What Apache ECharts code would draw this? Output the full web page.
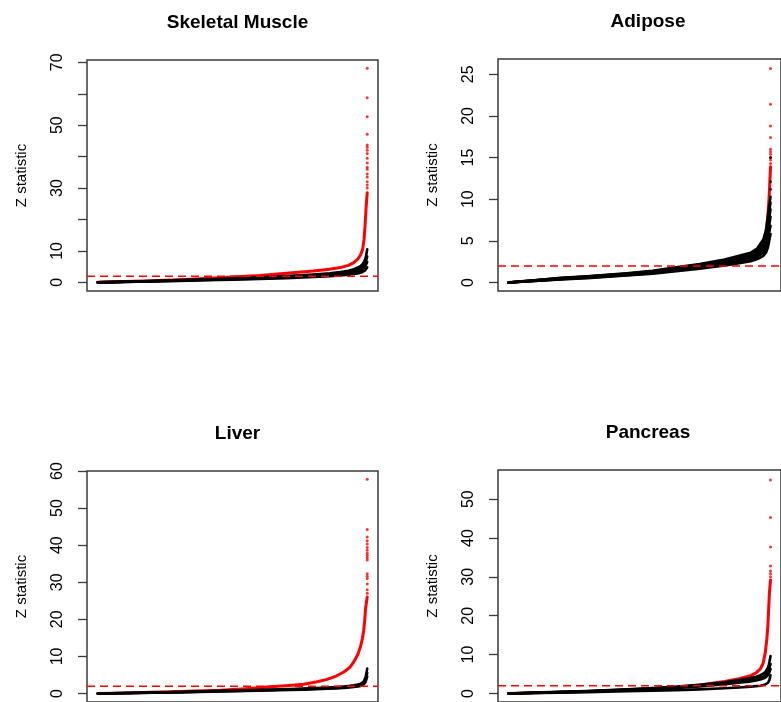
<!DOCTYPE html>
<html>
<head>
<meta charset="utf-8">
<script src="https://cdn.jsdelivr.net/npm/echarts@6/dist/echarts.min.js"></script>
<style>
  html, body { margin: 0; padding: 0; background: #fff; }
  #chart { width: 781px; height: 702px; }
</style>
</head>
<body>
<div id="chart"></div>
<script>
// Sorted Z statistics per tissue: observed (red) versus null runs (black).
// x is the rank as a fraction of all genes (0 = smallest, 1 = largest).

const panelTitles = ['Skeletal Muscle', 'Adipose', 'Liver', 'Pancreas'];
const threshold = 1.96;

// ---- Skeletal Muscle ----
const muscleRank = [0, 0.1, 0.2, 0.3, 0.4, 0.5, 0.6, 0.7, 0.8, 0.86, 0.9, 0.93, 0.95, 0.965, 0.975, 0.983, 0.988, 0.992, 0.996, 1];
const muscleObserved = [0, 0.25, 0.5, 0.85, 1.2, 1.7, 2.2, 2.9, 3.6, 4.2, 4.7, 5.4, 6.3, 7.4, 8.7, 10.5, 13.5, 18, 24, 28.5];
const muscleObservedTail = [30, 31, 32, 33.5, 34.5, 36, 36.6, 38, 39.5, 41, 42, 43, 43.7, 47.1, 52.7, 58.7, 68.1];
const muscleNull = [
  [0, 0.2, 0.45, 0.7, 0.95, 1.25, 1.6, 2.0, 2.5, 2.9, 3.3, 3.7, 4.2, 4.7, 5.2, 5.8, 6.4, 7.2, 8.5, 10.5],
  [0, 0.18, 0.4, 0.62, 0.85, 1.1, 1.4, 1.75, 2.2, 2.55, 2.9, 3.25, 3.6, 4.0, 4.4, 4.9, 5.4, 6.0, 7.0, 8.2],
  [0, 0.16, 0.35, 0.55, 0.75, 0.98, 1.25, 1.55, 1.95, 2.25, 2.55, 2.85, 3.15, 3.45, 3.75, 4.1, 4.5, 5.0, 5.7, 6.5],
  [0, 0.14, 0.3, 0.48, 0.66, 0.86, 1.1, 1.35, 1.7, 1.95, 2.2, 2.45, 2.65, 2.85, 3.05, 3.3, 3.55, 3.8, 4.2, 4.8]
];
const muscleNullTail = [];
const muscleTicks = [0, 10, 20, 30, 40, 50, 60, 70];
const muscleLabels = [0, 10, 30, 50, 70];

// ---- Adipose ----
const adiposeRank = [0, 0.1, 0.2, 0.3, 0.45, 0.55, 0.64, 0.73, 0.825, 0.88, 0.924, 0.95, 0.973, 0.983, 0.99, 0.995, 1];
const adiposeObserved = [0, 0.24, 0.49, 0.69, 1.02, 1.3, 1.7, 2.08, 2.6, 2.98, 3.3, 3.8, 4.8, 6.0, 8.0, 10.5, 13.9];
const adiposeObservedTail = [14.3, 14.7, 15.0, 15.4, 15.7, 16.0, 17.4, 18.8, 21.4, 25.7];
const adiposeNull = [
  [0, 0.27, 0.55, 0.75, 1.1, 1.4, 1.82, 2.2, 2.75, 3.2, 3.55, 4.1, 5.2, 6.3, 8.0, 9.2, 10.3],
  [0, 0.25, 0.51, 0.71, 1.05, 1.34, 1.73, 2.1, 2.62, 3.03, 3.36, 3.85, 4.8, 5.8, 7.3, 8.5, 9.6],
  [0, 0.23, 0.47, 0.66, 0.99, 1.27, 1.64, 2.0, 2.48, 2.86, 3.17, 3.6, 4.4, 5.2, 6.5, 7.7, 8.8],
  [0, 0.21, 0.43, 0.62, 0.94, 1.2, 1.55, 1.88, 2.34, 2.68, 2.97, 3.35, 4.0, 4.6, 5.7, 6.9, 7.9],
  [0, 0.19, 0.39, 0.57, 0.88, 1.12, 1.45, 1.76, 2.19, 2.49, 2.76, 3.08, 3.6, 4.1, 4.9, 6.0, 6.8],
  [0, 0.17, 0.35, 0.52, 0.83, 1.05, 1.35, 1.65, 2.05, 2.3, 2.55, 2.8, 3.2, 3.6, 4.2, 5.0, 5.8]
];
const adiposeNullTail = [11.2, 12.1, 15.0];
const adiposeTicks = [0, 5, 10, 15, 20, 25];
const adiposeLabels = [0, 5, 10, 15, 20, 25];

// ---- Liver ----
const liverRank = [0, 0.1, 0.2, 0.3, 0.455, 0.55, 0.64, 0.71, 0.764, 0.81, 0.851, 0.885, 0.913, 0.935, 0.95, 0.965, 0.975, 0.982, 0.987, 0.991, 0.994, 1];
const liverObserved = [0, 0.15, 0.3, 0.5, 0.9, 1.3, 1.8, 2.15, 2.5, 3.1, 3.8, 4.7, 5.8, 7.0, 8.5, 10.5, 12.6, 14.8, 17, 20, 23, 26];
const liverObservedTail = [27, 28, 29.5, 31, 31.6, 32.3, 36, 36.6, 37.2, 37.8, 38.6, 39.4, 40.3, 41.2, 42.2, 44.2, 57.8];
const liverNull = [
  [0, 0.12, 0.25, 0.4, 0.7, 0.88, 1.05, 1.2, 1.32, 1.45, 1.6, 1.75, 1.9, 2.05, 2.2, 2.4, 2.6, 2.85, 3.2, 3.7, 4.4, 6.7],
  [0, 0.1, 0.22, 0.35, 0.62, 0.78, 0.94, 1.07, 1.18, 1.3, 1.42, 1.55, 1.68, 1.82, 1.95, 2.1, 2.3, 2.5, 2.75, 3.1, 3.6, 5.6],
  [0, 0.08, 0.18, 0.3, 0.54, 0.68, 0.83, 0.95, 1.05, 1.15, 1.26, 1.38, 1.5, 1.62, 1.74, 1.88, 2.05, 2.22, 2.45, 2.75, 3.1, 4.6]
];
const liverNullTail = [];
const liverTicks = [0, 10, 20, 30, 40, 50, 60];
const liverLabels = [0, 10, 20, 30, 40, 50, 60];

// ---- Pancreas ----
const pancreasRank = [0, 0.1, 0.2, 0.3, 0.453, 0.55, 0.64, 0.73, 0.825, 0.88, 0.924, 0.945, 0.961, 0.972, 0.98, 0.986, 0.99, 0.993, 0.996, 1];
const pancreasObserved = [0, 0.15, 0.32, 0.52, 0.92, 1.2, 1.55, 2.2, 3.1, 3.8, 4.6, 5.3, 6.3, 7.8, 10.5, 14, 17.5, 22, 26, 29.2];
const pancreasObservedTail = [30, 30.8, 31.5, 32.8, 37.7, 45.3, 54.9];
const pancreasNull = [
  [0, 0.2, 0.42, 0.65, 1.1, 1.4, 1.75, 2.25, 2.9, 3.45, 3.95, 4.3, 4.7, 5.1, 5.5, 6.0, 6.6, 7.3, 8.2, 9.6],
  [0, 0.18, 0.38, 0.58, 0.98, 1.25, 1.55, 2.0, 2.6, 3.05, 3.5, 3.8, 4.1, 4.4, 4.75, 5.1, 5.5, 6.0, 6.6, 7.6],
  [0, 0.16, 0.34, 0.52, 0.88, 1.12, 1.4, 1.8, 2.35, 2.75, 3.1, 3.35, 3.6, 3.85, 4.1, 4.4, 4.7, 5.0, 5.5, 6.3],
  [0, 0.1, 0.22, 0.34, 0.56, 0.7, 0.85, 1.05, 1.35, 1.55, 1.75, 1.88, 2.0, 2.15, 2.3, 2.5, 2.75, 3.0, 3.5, 4.7]
];
const pancreasNullTail = [];
const pancreasTicks = [0, 10, 20, 30, 40, 50];
const pancreasLabels = [0, 10, 20, 30, 40, 50];

// ---- layout / styling ----
const FONT = '"Liberation Sans", Arial, Helvetica, sans-serif';
const RED = '#ff0000';
const INK = '#000000';
const FRAME = '#3a3a3a';

const panels = [
  { rank: muscleRank, obs: muscleObserved, obsTail: muscleObservedTail, nul: muscleNull, nulTail: muscleNullTail,
    ticks: muscleTicks, labels: muscleLabels, yMin: -2.75, yMax: 70.75,
    grid: { left: 87, top: 60, width: 291, height: 231 } },
  { rank: adiposeRank, obs: adiposeObserved, obsTail: adiposeObservedTail, nul: adiposeNull, nulTail: adiposeNullTail,
    ticks: adiposeTicks, labels: adiposeLabels, yMin: -1.03, yMax: 26.84,
    grid: { left: 498, top: 59, width: 290, height: 232 } },
  { rank: liverRank, obs: liverObserved, obsTail: liverObservedTail, nul: liverNull, nulTail: liverNullTail,
    ticks: liverTicks, labels: liverLabels, yMin: -2.3, yMax: 60.0,
    grid: { left: 87, top: 471, width: 291, height: 231 } },
  { rank: pancreasRank, obs: pancreasObserved, obsTail: pancreasObservedTail, nul: pancreasNull, nulTail: pancreasNullTail,
    ticks: pancreasTicks, labels: pancreasLabels, yMin: -2.2, yMax: 57.5,
    grid: { left: 498, top: 470, width: 290, height: 232 } }
];

const pairs = (xs, ys) => xs.map((x, i) => [x, ys[i]]);

const grids = [], xAxes = [], yAxes = [], series = [], titles = [];

panels.forEach((p, k) => {
  grids.push(Object.assign({ show: true, borderColor: FRAME, borderWidth: 1.5, backgroundColor: 'transparent' }, p.grid));
  titles.push({
    text: panelTitles[k],
    left: p.grid.left + p.grid.width / 2,
    top: p.grid.top - 52,
    textAlign: 'center',
    textStyle: { fontFamily: FONT, fontSize: 19, fontWeight: 'bold', color: '#000' }
  });
  xAxes.push({ type: 'value', gridIndex: k, min: -0.04, max: 1.04, show: false });
  yAxes.push({
    type: 'value', gridIndex: k, min: p.yMin, max: p.yMax,
    name: 'Z statistic', nameLocation: 'middle', nameGap: 58,
    nameTextStyle: { fontFamily: FONT, fontSize: 15, color: '#000' },
    axisLine: { show: false, onZero: false },
    axisTick: { show: true, inside: false, length: 9, customValues: p.ticks,
                lineStyle: { color: FRAME, width: 1.3 } },
    axisLabel: { show: true, rotate: 90, margin: 21, customValues: p.labels,
                 fontFamily: FONT, fontSize: 16, color: '#000' },
    splitLine: { show: false }
  });

  // observed statistics
  series.push({
    type: 'line', xAxisIndex: k, yAxisIndex: k, z: 2,
    data: pairs(p.rank, p.obs), symbol: 'none', animation: false,
    lineStyle: { color: RED, width: 3, join: 'round', cap: 'round' }
  });
  // null runs
  p.nul.forEach(run => {
    series.push({
      type: 'line', xAxisIndex: k, yAxisIndex: k, z: 3,
      data: pairs(p.rank, run), symbol: 'none', animation: false,
      lineStyle: { color: INK, width: 2.6, join: 'round', cap: 'round' }
    });
  });
  // isolated extreme values at the top rank
  series.push({
    type: 'scatter', xAxisIndex: k, yAxisIndex: k, z: 4,
    data: p.obsTail.map(v => [1, v]), symbol: 'circle', symbolSize: 3, animation: false,
    itemStyle: { color: RED }
  });
  if (p.nulTail.length) {
    series.push({
      type: 'scatter', xAxisIndex: k, yAxisIndex: k, z: 4,
      data: p.nulTail.map(v => [1, v]), symbol: 'circle', symbolSize: 3, animation: false,
      itemStyle: { color: INK }
    });
  }
  // significance threshold
  series.push({
    type: 'line', xAxisIndex: k, yAxisIndex: k, z: 5,
    data: [[-0.04, threshold], [1.04, threshold]], symbol: 'none', animation: false,
    lineStyle: { color: RED, width: 1.5, type: [8, 5] }
  });
});

const chart = echarts.init(document.getElementById('chart'), null, { renderer: 'canvas' });
chart.setOption({
  animation: false,
  backgroundColor: '#ffffff',
  title: titles,
  grid: grids,
  xAxis: xAxes,
  yAxis: yAxes,
  series: series
});
</script>
</body>
</html>
